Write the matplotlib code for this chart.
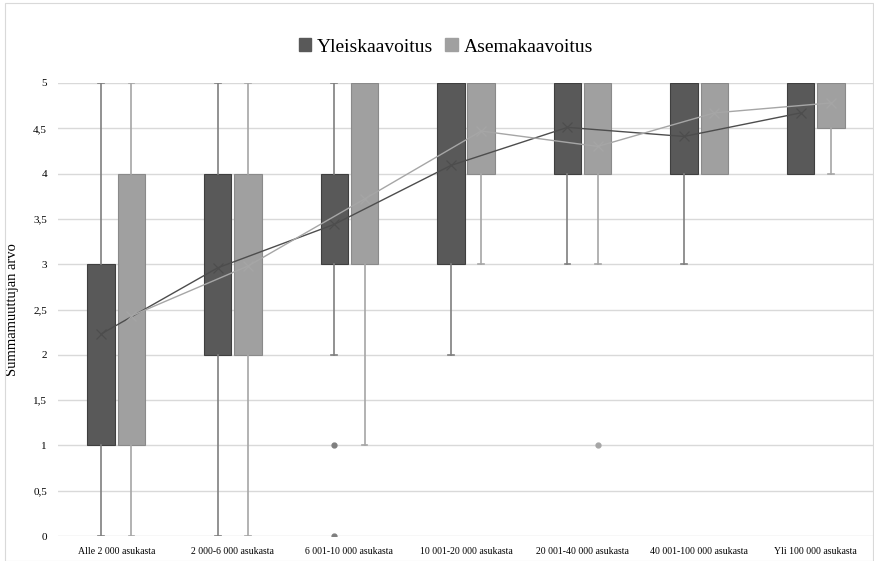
import numpy as np
import matplotlib.pyplot as plt
from matplotlib.patches import Patch, Rectangle

plt.rcParams['font.family'] = ['Liberation Serif', 'DejaVu Serif']

# Kuntaluokat
categories = ['Alle 2 000 asukasta', '2 000-6 000 asukasta', '6 001-10 000 asukasta',
              '10 001-20 000 asukasta', '20 001-40 000 asukasta', '40 001-100 000 asukasta',
              'Yli 100 000 asukasta']

# Yleiskaavoitus
y_q1 = [1, 2, 3, 3, 4, 4, 4]
y_q3 = [3, 4, 4, 5, 5, 5, 5]
y_med = [2, 3, 3, 4, 5, 4, 5]
y_lo = [0, 0, 2, 2, 3, 3, 4]
y_hi = [5, 5, 5, 5, 5, 5, 5]
y_mean = [2.23, 2.96, 3.44, 4.09, 4.51, 4.41, 4.67]
y_fliers = [[], [], [1, 0], [], [], [], []]

# Asemakaavoitus
a_q1 = [1, 2, 3, 4, 4, 4, 4.5]
a_q3 = [4, 4, 5, 5, 5, 5, 5]
a_med = [2, 3, 4, 5, 4, 5, 5]
a_lo = [0, 0, 1, 3, 3, 4, 4]
a_hi = [5, 5, 5, 5, 5, 5, 5]
a_mean = [2.43, 2.98, 3.72, 4.47, 4.30, 4.67, 4.78]
a_fliers = [[], [], [], [], [1], [], []]

labels = ['Yleiskaavoitus', 'Asemakaavoitus']
dark = '#595959'
light = '#a0a0a0'


def make_stats(q1, q3, med, lo, hi, mean, fliers):
    stats = []
    for i in range(len(q1)):
        stats.append({'q1': q1[i], 'q3': q3[i], 'med': med[i], 'whislo': lo[i],
                      'whishi': hi[i], 'mean': mean[i], 'fliers': np.array(fliers[i], dtype=float)})
    return stats


fig = plt.figure(figsize=(8.74, 5.61), dpi=100)
fig.patches.append(Rectangle((0.006, 0.0), 0.993, 0.995, transform=fig.transFigure,
                             fill=False, edgecolor='#d9d9d9', linewidth=0.8))
ax = fig.add_axes([58 / 874, 1 - 536 / 561, 1 - 58 / 874, (536 - 83) / 561])

x = np.arange(len(categories))
off = 0.13
w = 0.235

groups = [
    (make_stats(y_q1, y_q3, y_med, y_lo, y_hi, y_mean, y_fliers), x - off, dark, '#3f3f3f', '#7f7f7f'),
    (make_stats(a_q1, a_q3, a_med, a_lo, a_hi, a_mean, a_fliers), x + off, light, '#8a8a8a', '#a6a6a6'),
]

for stats, pos, fc, ec, wc in groups:
    parts = ax.bxp(stats, positions=pos, widths=w, patch_artist=True, showmeans=False,
                   showfliers=True, capwidths=0.05,
                   boxprops=dict(facecolor=fc, edgecolor=ec, linewidth=0.8),
                   whiskerprops=dict(color=wc, linewidth=1.2),
                   capprops=dict(color=wc, linewidth=1.2),
                   medianprops=dict(linewidth=0),
                   flierprops=dict(marker='o', markersize=3.5, markerfacecolor=wc,
                                   markeredgecolor=wc), zorder=3)
    # piilota viikset joilla ei ole pituutta
    for i, s in enumerate(stats):
        if s['whislo'] == s['q1']:
            parts['caps'][2 * i].set_visible(False)
        if s['whishi'] == s['q3']:
            parts['caps'][2 * i + 1].set_visible(False)

ax.plot(x - off, y_mean, color='#4d4d4d', linewidth=1, marker='x', markersize=7,
        markeredgewidth=0.9, zorder=4)
ax.plot(x + off, a_mean, color='#a6a6a6', linewidth=1, marker='x', markersize=7,
        markeredgewidth=0.9, zorder=4)

ax.set_xlim(-0.5, len(categories) - 0.5)
ax.set_ylim(0, 5)
ax.set_yticks(np.arange(0, 5.01, 0.5))
ax.set_yticklabels([f'{v:g}'.replace('.', ',') for v in np.arange(0, 5.01, 0.5)], fontsize=8)
ax.set_xticks(x)
ax.set_xticklabels(categories, fontsize=7)
ax.tick_params(length=0, pad=8)
ax.yaxis.grid(True, color='#d9d9d9', linewidth=1)
ax.set_axisbelow(True)
for s in ax.spines.values():
    s.set_visible(False)
ax.set_ylabel('Summamuuttujan arvo', fontsize=10.5, labelpad=10)

handles = [Patch(facecolor=dark, edgecolor=dark), Patch(facecolor=light, edgecolor=light)]
fig.legend(handles, labels, loc='center', bbox_to_anchor=(0.51, 1 - 47 / 561), ncol=2,
           frameon=False, fontsize=14, handlelength=0.65, handleheight=0.65,
           handletextpad=0.3, columnspacing=0.6)

plt.savefig('out.png', dpi=100)
